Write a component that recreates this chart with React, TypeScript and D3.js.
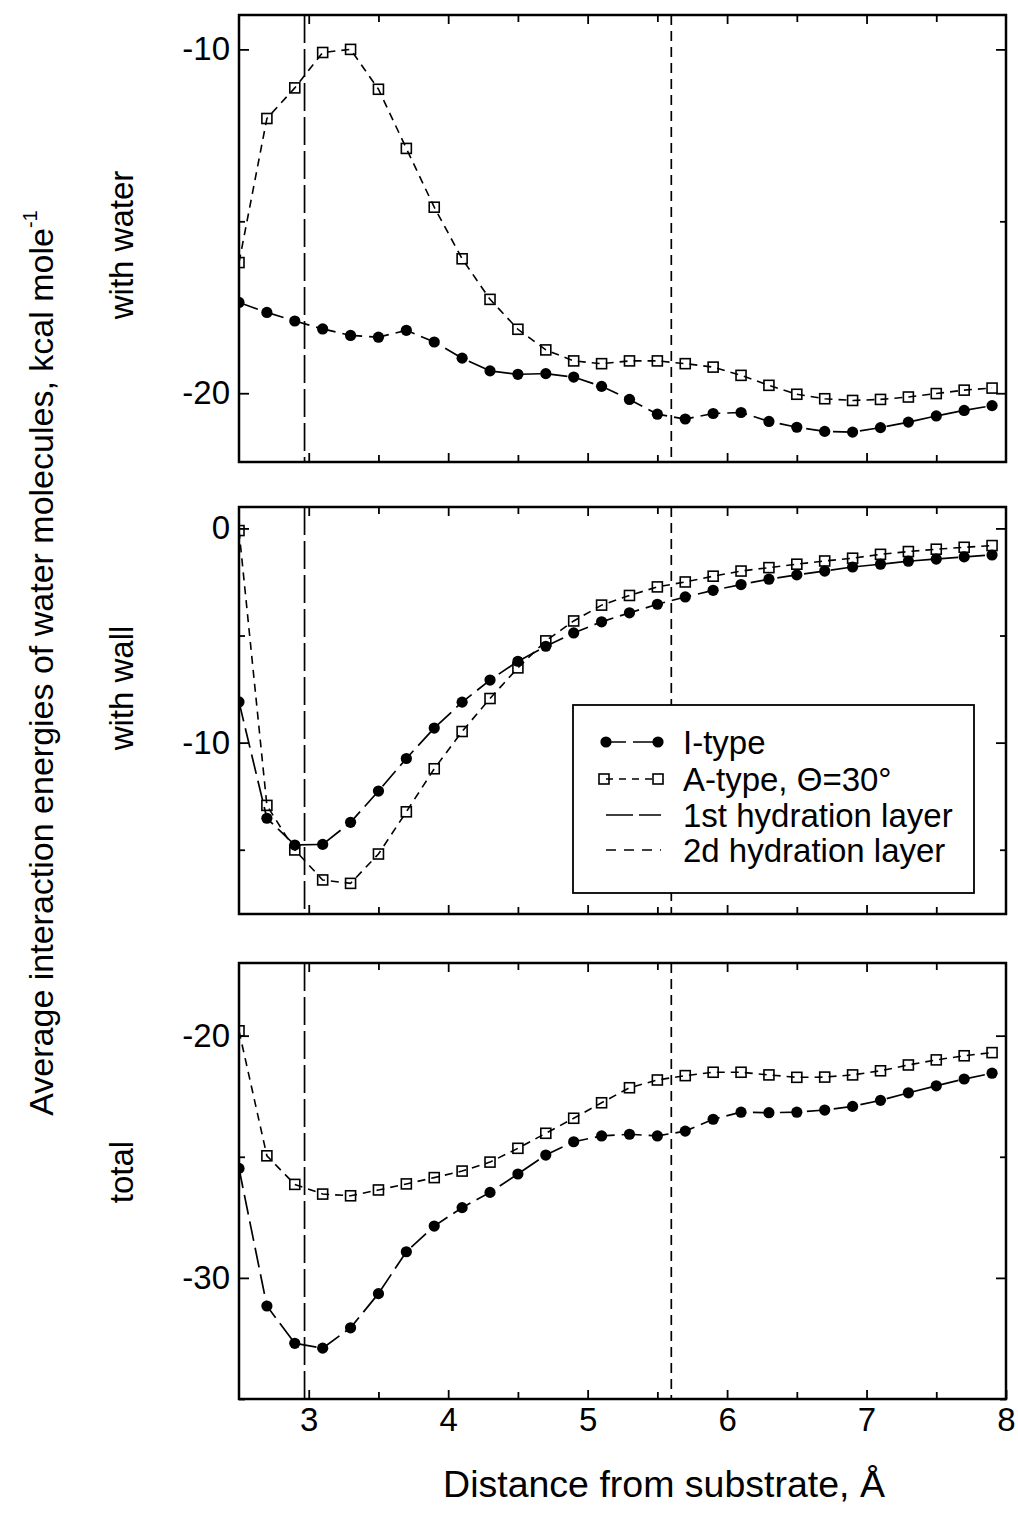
import React, { useRef, useEffect } from "react";
import * as d3 from "d3";

// distance from substrate, Å
const distance = [
  2.5, 2.7, 2.9, 3.1, 3.3, 3.5, 3.7, 3.9, 4.1, 4.3, 4.5, 4.7, 4.9, 5.1,
  5.3, 5.5, 5.7, 5.9, 6.1, 6.3, 6.5, 6.7, 6.9, 7.1, 7.3, 7.5, 7.7, 7.9,
];

// with water
const waterI = [
  -17.36, -17.65, -17.9, -18.13, -18.32, -18.37, -18.17, -18.51, -18.98, -19.35,
  -19.45, -19.43, -19.53, -19.8, -20.18, -20.61, -20.75, -20.59, -20.56, -20.82,
  -20.99, -21.11, -21.13, -21.0, -20.84, -20.66, -20.5, -20.36,
];
const waterA = [
  -16.2, -12.01, -11.12, -10.09, -10.0, -11.16, -12.88, -14.59, -16.09, -17.27,
  -18.14, -18.74, -19.06, -19.14, -19.06, -19.06, -19.14, -19.24, -19.48, -19.77,
  -20.03, -20.16, -20.21, -20.18, -20.11, -20.01, -19.91, -19.85,
];

// with wall
const wallI = [
  -8.1, -13.53, -14.78, -14.75, -13.72, -12.26, -10.74, -9.32, -8.11, -7.08,
  -6.2, -5.5, -4.88, -4.36, -3.94, -3.54, -3.2, -2.89, -2.62, -2.37,
  -2.17, -1.99, -1.8, -1.67, -1.53, -1.43, -1.33, -1.24,
];
const wallA = [
  -0.1, -12.93, -15.01, -16.41, -16.57, -15.2, -13.23, -11.22, -9.48, -7.94,
  -6.51, -5.25, -4.32, -3.58, -3.13, -2.73, -2.5, -2.23, -1.99, -1.83,
  -1.67, -1.52, -1.39, -1.21, -1.08, -0.97, -0.88, -0.8,
];

// total
const totalI = [
  -25.48, -31.16, -32.7, -32.9, -32.06, -30.65, -28.92, -27.86, -27.1, -26.47,
  -25.71, -24.93, -24.38, -24.14, -24.07, -24.14, -23.94, -23.45, -23.16, -23.18,
  -23.16, -23.07, -22.92, -22.67, -22.36, -22.07, -21.79, -21.55,
];
const totalA = [
  -19.8, -24.96, -26.14, -26.54, -26.61, -26.37, -26.12, -25.86, -25.59, -25.22,
  -24.65, -24.03, -23.41, -22.77, -22.15, -21.83, -21.65, -21.51, -21.51, -21.62,
  -21.72, -21.71, -21.62, -21.45, -21.21, -21.0, -20.83, -20.7,
];

const panelLabels = ["with water", "with wall", "total"];
const xTickLabels = [3, 4, 5, 6, 7, 8];
const hydrationLayers = [2.97, 5.6];
const legendLabels = ["I-type", "A-type, \u0398=30\u00b0", "1st hydration layer", "2d hydration layer"];

const FONT = "'Liberation Sans', Arial, Helvetica, sans-serif";

const App = () => {
  const svgRef = useRef<SVGSVGElement>(null);

  useEffect(() => {
    const svg = d3.select(svgRef.current);
    svg.selectAll("*").remove();
    svg.attr("font-family", FONT);

    const left = 239;
    const right = 1006;
    const x = d3.scaleLinear().domain([2.5, 8]).range([left, right]);

    const panels = [
      { top: 15, bottom: 462, domain: [-22, -9], iVals: waterI, aVals: waterA, labelY: 245 },
      { top: 507, bottom: 914, domain: [-18, 1], iVals: wallI, aVals: wallA, labelY: 688 },
      { top: 963, bottom: 1399, domain: [-35, -17], iVals: totalI, aVals: totalA, labelY: 1172 },
    ];

    const xMajor = [3, 4, 5, 6, 7];
    const xMinor = [3.5, 4.5, 5.5, 6.5, 7.5];
    const sq = 10; // square marker side
    const dotR = 5.6;

    panels.forEach((p, k) => {
      const y = d3.scaleLinear().domain(p.domain).range([p.bottom, p.top]);
      const g = svg.append("g");

      const clipId = `clip-${k}`;
      g.append("clipPath")
        .attr("id", clipId)
        .append("rect")
        .attr("x", left)
        .attr("y", p.top)
        .attr("width", right - left)
        .attr("height", p.bottom - p.top);

      const plot = g.append("g").attr("clip-path", `url(#${clipId})`);

      // hydration layer markers
      plot
        .selectAll(".layer")
        .data(hydrationLayers)
        .join("line")
        .attr("x1", (d) => x(d))
        .attr("x2", (d) => x(d))
        .attr("y1", p.top)
        .attr("y2", p.bottom)
        .attr("stroke", "#000")
        .attr("stroke-width", 1.7)
        .attr("stroke-dasharray", (d, i) => (i === 0 ? "28,6" : "10,6"));

      const line = d3
        .line<number>()
        .x((d, i) => x(distance[i]))
        .y((d) => y(d));

      plot
        .append("path")
        .datum(p.aVals)
        .attr("d", line)
        .attr("fill", "none")
        .attr("stroke", "#000")
        .attr("stroke-width", 1.6)
        .attr("stroke-dasharray", "8,6");

      plot
        .append("path")
        .datum(p.iVals)
        .attr("d", line)
        .attr("fill", "none")
        .attr("stroke", "#000")
        .attr("stroke-width", 1.7)
        .attr("stroke-dasharray", "20,7");

      plot
        .selectAll(".sq")
        .data(p.aVals)
        .join("rect")
        .attr("x", (d, i) => x(distance[i]) - sq / 2)
        .attr("y", (d) => y(d) - sq / 2)
        .attr("width", sq)
        .attr("height", sq)
        .attr("fill", "none")
        .attr("stroke", "#000")
        .attr("stroke-width", 1.6);

      plot
        .selectAll(".dot")
        .data(p.iVals)
        .join("circle")
        .attr("cx", (d, i) => x(distance[i]))
        .attr("cy", (d) => y(d))
        .attr("r", dotR)
        .attr("fill", "#000");

      // ticks on all four sides, pointing inward
      const yAll = d3.range(Math.ceil(p.domain[0] / 5) * 5, p.domain[1] + 0.01, 5);
      const yMajor = yAll.filter((v) => v % 10 === 0);
      const yMinor = yAll.filter((v) => v % 10 !== 0);

      const styleAxis = (sel: any) => {
        sel.select(".domain").remove();
        sel.selectAll("line").attr("stroke-width", 1.8);
        sel.attr("font-size", 33).attr("font-family", FONT);
      };

      g.append("g")
        .attr("transform", `translate(${left},0)`)
        .call(d3.axisLeft(y).tickValues(yMajor).tickSize(-10).tickPadding(9).tickFormat((d) => String(d)))
        .call(styleAxis);
      g.append("g")
        .attr("transform", `translate(${left},0)`)
        .call(d3.axisLeft(y).tickValues(yMinor).tickSize(-6).tickFormat(() => ""))
        .call(styleAxis);
      g.append("g")
        .attr("transform", `translate(${right},0)`)
        .call(d3.axisRight(y).tickValues(yMajor).tickSize(-10).tickFormat(() => ""))
        .call(styleAxis);
      g.append("g")
        .attr("transform", `translate(${right},0)`)
        .call(d3.axisRight(y).tickValues(yMinor).tickSize(-6).tickFormat(() => ""))
        .call(styleAxis);

      g.append("g")
        .attr("transform", `translate(0,${p.top})`)
        .call(d3.axisTop(x).tickValues(xMajor).tickSize(-9).tickFormat(() => ""))
        .call(styleAxis);
      g.append("g")
        .attr("transform", `translate(0,${p.top})`)
        .call(d3.axisTop(x).tickValues(xMinor).tickSize(-7).tickFormat(() => ""))
        .call(styleAxis);
      g.append("g")
        .attr("transform", `translate(0,${p.bottom})`)
        .call(
          d3
            .axisBottom(x)
            .tickValues(k === 2 ? xTickLabels : xMajor)
            .tickSize(-9)
            .tickPadding(9)
            .tickFormat((d) => (k === 2 ? String(d) : ""))
        )
        .call(styleAxis);
      g.append("g")
        .attr("transform", `translate(0,${p.bottom})`)
        .call(d3.axisBottom(x).tickValues(xMinor).tickSize(-7).tickFormat(() => ""))
        .call(styleAxis);

      // frame
      g.append("rect")
        .attr("x", left)
        .attr("y", p.top)
        .attr("width", right - left)
        .attr("height", p.bottom - p.top)
        .attr("fill", "none")
        .attr("stroke", "#000")
        .attr("stroke-width", 2.5);

      // panel label
      svg
        .append("text")
        .attr("transform", `translate(133,${p.labelY}) rotate(-90)`)
        .attr("text-anchor", "middle")
        .attr("font-size", 33)
        .text(panelLabels[k]);
    });

    // legend
    const lg = svg.append("g");
    lg.append("rect")
      .attr("x", 573)
      .attr("y", 705)
      .attr("width", 401)
      .attr("height", 188)
      .attr("fill", "#fff")
      .attr("stroke", "#000")
      .attr("stroke-width", 1.8);

    const rowY = [742, 779, 815, 850];
    const sx0 = 606;
    const sx1 = 658;
    const dashes = ["20,7", "7,6", "27,6", "10,8"];
    legendLabels.forEach((label, i) => {
      const cy = rowY[i];
      lg.append("line")
        .attr("x1", sx0)
        .attr("x2", i >= 2 ? sx0 + 55 : sx1)
        .attr("y1", cy)
        .attr("y2", cy)
        .attr("stroke", "#000")
        .attr("stroke-width", 1.6)
        .attr("stroke-dasharray", dashes[i]);
      if (i === 0) {
        [sx0, sx1].forEach((cx) =>
          lg.append("circle").attr("cx", cx).attr("cy", cy).attr("r", dotR).attr("fill", "#000")
        );
      }
      if (i === 1) {
        [sx0 - 2, sx1].forEach((cx) =>
          lg
            .append("rect")
            .attr("x", cx - sq / 2)
            .attr("y", cy - sq / 2)
            .attr("width", sq)
            .attr("height", sq)
            .attr("fill", "none")
            .attr("stroke", "#000")
            .attr("stroke-width", 1.6)
        );
      }
      lg.append("text")
        .attr("x", 683)
        .attr("y", cy)
        .attr("dy", "0.36em")
        .attr("font-size", 33)
        .text(label);
    });

    // axis titles
    svg
      .append("text")
      .attr("x", 664)
      .attr("y", 1497)
      .attr("text-anchor", "middle")
      .attr("font-size", 37.5)
      .text("Distance from substrate, \u00c5");

    const yt = svg
      .append("text")
      .attr("transform", "translate(53,663) rotate(-90)")
      .attr("text-anchor", "middle")
      .attr("font-size", 34);
    yt.append("tspan").text("Average interaction energies of water molecules, kcal mole");
    yt.append("tspan").attr("dy", -16).attr("font-size", 20).text("-1");
  }, []);

  return (
    <svg
      ref={svgRef}
      width={1018}
      height={1519}
      style={{ position: "absolute", left: 0, top: 0, background: "#fff" }}
    />
  );
};

export default App;
